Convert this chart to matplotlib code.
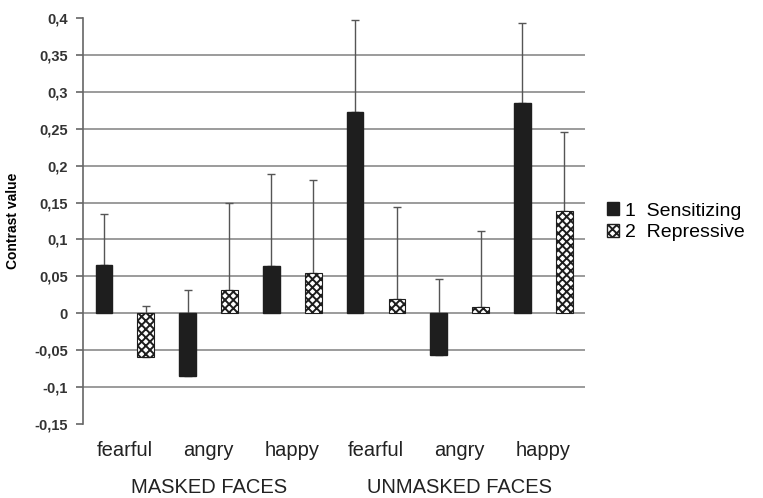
import matplotlib.pyplot as plt
from matplotlib.patches import Patch

# Data
emotions = ["fearful", "angry", "happy", "fearful", "angry", "happy"]
groups = ["MASKED FACES", "UNMASKED FACES"]
sensitizing = [0.065, -0.085, 0.064, 0.272, -0.056, 0.285]
sensitizing_top = [0.135, 0.032, 0.188, 0.397, 0.046, 0.393]
repressive = [-0.059, 0.031, 0.055, 0.019, 0.008, 0.139]
repressive_top = [0.010, 0.149, 0.180, 0.144, 0.111, 0.246]
yticks = [-0.15, -0.1, -0.05, 0, 0.05, 0.1, 0.15, 0.2, 0.25, 0.3, 0.35, 0.4]

plt.rcParams['font.family'] = ['Liberation Sans', 'DejaVu Sans']
plt.rcParams['hatch.linewidth'] = 1.4

fig = plt.figure(figsize=(7.63, 4.98), dpi=100)
ax = fig.add_axes([0.1088, 0.1486, 0.767 - 0.1088, 0.9639 - 0.1486])

x_s = [2 * i for i in range(len(emotions))]
x_r = [2 * i + 1 for i in range(len(emotions))]
err_s = [t - v for t, v in zip(sensitizing_top, sensitizing)]
err_r = [t - v for t, v in zip(repressive_top, repressive)]

for y in yticks[1:-1]:
    ax.axhline(y, color="#8a8a8a", lw=1.2, zorder=0)

ax.bar(x_s, sensitizing, width=0.4, color="#1e1e1e", edgecolor="#1e1e1e",
       zorder=3)
ax.bar(x_r, repressive, width=0.4, color="white", edgecolor="#1e1e1e",
       hatch="xxxx", lw=0.8, zorder=3)
ax.errorbar(x_s, sensitizing, yerr=[[0] * 6, err_s], fmt="none",
            ecolor="#555555", elinewidth=1, capsize=3, zorder=2)
ax.errorbar(x_r, repressive, yerr=[[0] * 6, err_r], fmt="none",
            ecolor="#555555", elinewidth=1, capsize=3, zorder=2)

ax.set_xlim(-0.5, 11.5)
ax.set_ylim(-0.15, 0.4)
ax.set_yticks(yticks)
ax.set_yticklabels([("%g" % t).replace(".", ",") for t in yticks],
                   fontsize=10.5, fontweight="bold", color="#333333")
ax.set_xticks([])
for s in ["top", "right", "bottom"]:
    ax.spines[s].set_visible(False)
ax.spines["left"].set_color("#666666")
ax.spines["left"].set_linewidth(1.2)
ax.tick_params(axis="y", length=5, width=1.2, color="#666666", pad=6)
ax.set_ylabel("Contrast value", fontsize=10, fontweight="bold", labelpad=10)

for i, e in enumerate(emotions):
    ax.text(2 * i + 0.5, -0.186, e, ha="center", va="center", fontsize=14.5,
            color="#222222")
ax.text(2.5, -0.236, groups[0], ha="center", va="center", fontsize=14.5,
        color="#222222")
ax.text(8.5, -0.236, groups[1], ha="center", va="center", fontsize=14.5,
        color="#222222")

handles = [Patch(facecolor="#1e1e1e", edgecolor="#1e1e1e"),
           Patch(facecolor="white", edgecolor="#1e1e1e", hatch="xxxx")]
fig.legend(handles, ["1  Sensitizing", "2  Repressive"],
           loc="center left", bbox_to_anchor=(0.772, 0.555), frameon=False,
           fontsize=14, handlelength=0.65, handleheight=0.65,
           handletextpad=0.3, labelspacing=0.2)

fig.savefig("out.png", dpi=100)
